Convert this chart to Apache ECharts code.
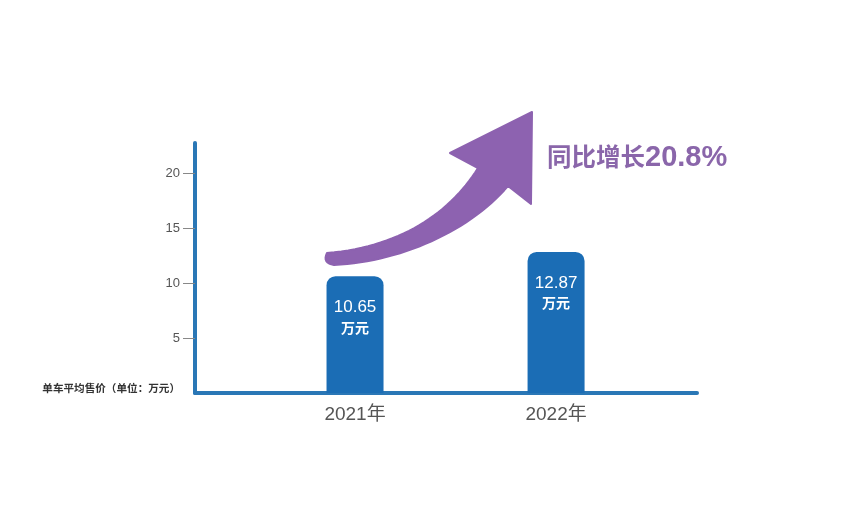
<!DOCTYPE html>
<html>
<head>
<meta charset="utf-8">
<script src="https://cdn.jsdelivr.net/npm/echarts@6/dist/echarts.min.js"></script>
<style>
html,body{margin:0;padding:0;background:#fff;}
#main{width:852px;height:509px;}
</style>
</head>
<body>
<div id="main"></div>
<script>
// ---- data ----
var categories = ['2021年', '2022年'];
var prices = [10.65, 12.87];
var yTickValues = [0, 5, 10, 15, 20];
var unitLabel = '单车平均售价（单位：万元）';
var unitSuffix = '万元';
var growthWords = '同比增长';
var growthRate = '20.8%';

var barData = prices.map(function (v, i) { return [i, v]; });

// decorative arrow outline built from bezier segments
function cubic(p0, p1, p2, p3, n) {
  var pts = [];
  for (var i = 0; i <= n; i++) {
    var t = i / n, u = 1 - t;
    pts.push([
      u*u*u*p0[0] + 3*u*u*t*p1[0] + 3*u*t*t*p2[0] + t*t*t*p3[0],
      u*u*u*p0[1] + 3*u*u*t*p1[1] + 3*u*t*t*p2[1] + t*t*t*p3[1]
    ]);
  }
  return pts;
}
function quad(p0, p1, p2, n) {
  var pts = [];
  for (var i = 0; i <= n; i++) {
    var t = i / n, u = 1 - t;
    pts.push([u*u*p0[0] + 2*u*t*p1[0] + t*t*p2[0], u*u*p0[1] + 2*u*t*p1[1] + t*t*p2[1]]);
  }
  return pts;
}
var arrowPts = []
  .concat(cubic([327, 253], [400, 247], [450, 213], [478, 168], 30))
  .concat([[450, 153], [532, 112], [531, 204], [508, 186]])
  .concat(cubic([508, 186], [470, 231], [400, 262], [334, 265], 30))
  .concat(quad([334, 265], [322, 263], [327, 253], 8));

var chart = echarts.init(document.getElementById('main'), null, { renderer: 'canvas' });
var font = '"Liberation Sans", Arial, "Noto Sans CJK SC", sans-serif';
var cjk = '"Noto Sans CJK SC", sans-serif';

var option = {
  backgroundColor: '#ffffff',
  animation: false,
  grid: { left: 195, right: 155, top: 143, bottom: 116, containLabel: false },
  xAxis: {
    type: 'value',
    min: -0.796,
    max: 1.701,
    splitLine: { show: false },
    axisLine: { show: true, onZero: false, lineStyle: { color: '#2a77b6', width: 4 } },
    axisTick: { show: false },
    axisLabel: {
      customValues: [0, 1],
      formatter: function (v) { return categories[Math.round(v)]; },
      color: '#555555',
      fontSize: 19,
      fontFamily: font,
      margin: 12
    }
  },
  yAxis: {
    type: 'value',
    min: 0,
    max: 22.8,
    splitLine: { show: false },
    axisLine: { show: true, onZero: false, lineStyle: { color: '#2a77b6', width: 4 } },
    axisTick: {
      show: true,
      customValues: [5, 10, 15, 20],
      length: 12,
      lineStyle: { color: '#888888', width: 1 }
    },
    axisLabel: {
      customValues: yTickValues,
      margin: 15,
      color: '#555555',
      fontSize: 13,
      fontFamily: font,
      formatter: function (v) {
        if (v === 0) return '{u|' + unitLabel + '}';
        return String(v);
      },
      rich: {
        u: { fontSize: 10.6, fontWeight: 'bold', color: '#333333', fontFamily: font, padding: [0, 0, 8, 0] }
      }
    }
  },
  series: [{
    type: 'bar',
    data: barData,
    barWidth: 57,
    itemStyle: { color: '#1b6db5', borderRadius: [9, 9, 0, 0] },
    label: {
      show: true,
      position: 'insideTop',
      distance: 21,
      color: '#ffffff',
      fontFamily: font,
      lineHeight: 21,
      formatter: function (p) { return '{n|' + p.value[1].toFixed(2) + '}\n{u|' + unitSuffix + '}'; },
      rich: {
        n: { fontSize: 17, color: '#ffffff', fontFamily: font, lineHeight: 21 },
        u: { fontSize: 14, fontWeight: 'bold', color: '#ffffff', fontFamily: font, lineHeight: 21 }
      }
    },
    z: 2
  }],
  graphic: [
    {
      type: 'polygon',
      z: 10,
      shape: { points: arrowPts },
      style: { fill: '#8d62b0', stroke: '#8d62b0', lineWidth: 2, lineJoin: 'round' }
    },
    {
      type: 'text',
      z: 10,
      x: 547,
      y: 157,
      style: {
        text: growthWords,
        verticalAlign: 'middle',
        align: 'left',
        fill: '#8a66aa',
        font: 'bold 24.5px ' + cjk
      }
    },
    {
      type: 'text',
      z: 10,
      x: 645,
      y: 158,
      style: {
        text: growthRate,
        verticalAlign: 'middle',
        align: 'left',
        fill: '#8a66aa',
        font: 'bold 29px ' + font
      }
    }
  ]
};
chart.setOption(option);
</script>
</body>
</html>
